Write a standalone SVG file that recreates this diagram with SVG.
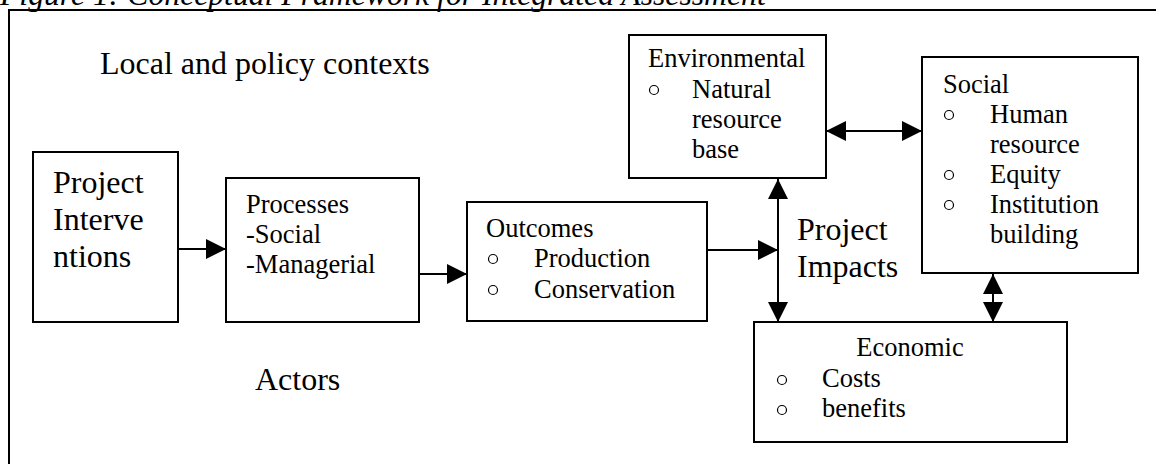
<svg xmlns="http://www.w3.org/2000/svg" width="1156" height="464" viewBox="0 0 1156 464">
<defs>
<style>
text{font-family:"Liberation Serif","Times New Roman",serif;fill:#000}
.big{font-size:32px}
.t{font-size:26.5px}
.box{fill:#fff;stroke:#000;stroke-width:2}
.con{stroke:#000;stroke-width:2;fill:none}
.bul{fill:none;stroke:#000;stroke-width:1.2}
</style>
<marker id="ah" markerUnits="userSpaceOnUse" markerWidth="20" markerHeight="20" refX="20" refY="10" orient="auto-start-reverse" viewBox="0 0 20 20">
<path d="M0,0 L20,10 L0,20 z" fill="#000"/>
</marker>
</defs>
<rect width="1156" height="464" fill="#fff"/>
<text x="0" y="5" font-size="31.7" font-style="italic">Figure 1: Conceptual Framework for Integrated Assessment</text>
<path d="M9,464 V10 H1156" fill="none" stroke="#000" stroke-width="2"/>
<text class="big" x="100" y="74">Local and policy contexts</text>
<text class="big" x="255" y="390">Actors</text>
<text class="big" x="797" y="240">Project</text>
<text class="big" x="797" y="277">Impacts</text>

<g id="interventions">
<rect class="box" x="33" y="152" width="145" height="170"/>
<text class="big" x="53" y="193">Project</text>
<text class="big" x="53" y="230">Interve</text>
<text class="big" x="53" y="267">ntions</text>
</g>
<g id="processes">
<rect class="box" x="226" y="178" width="193" height="144"/>
<text class="t" x="246" y="213">Processes</text>
<text class="t" x="246" y="243">-Social</text>
<text class="t" x="246" y="273">-Managerial</text>
</g>
<g id="outcomes">
<rect class="box" x="467" y="202" width="240" height="119"/>
<text class="t" x="486" y="237">Outcomes</text>
<circle class="bul" cx="493" cy="259" r="4.5"/>
<text class="t" x="534" y="267">Production</text>
<circle class="bul" cx="493" cy="290" r="4.5"/>
<text class="t" x="534" y="298">Conservation</text>
</g>
<g id="environmental">
<rect class="box" x="629" y="35" width="197" height="143"/>
<text class="t" x="648" y="67">Environmental</text>
<circle class="bul" cx="654" cy="90" r="4.5"/>
<text class="t" x="692" y="98">Natural</text>
<text class="t" x="692" y="128">resource</text>
<text class="t" x="692" y="158">base</text>
</g>
<g id="social">
<rect class="box" x="922" y="57" width="216" height="216"/>
<text class="t" x="943" y="93">Social</text>
<circle class="bul" cx="949" cy="115" r="4.5"/>
<text class="t" x="990" y="123">Human</text>
<text class="t" x="990" y="153">resource</text>
<circle class="bul" cx="949" cy="175" r="4.5"/>
<text class="t" x="990" y="183">Equity</text>
<circle class="bul" cx="949" cy="205" r="4.5"/>
<text class="t" x="990" y="213">Institution</text>
<text class="t" x="990" y="243">building</text>
</g>
<g id="economic">
<rect class="box" x="754" y="322" width="313" height="120"/>
<text class="t" x="910" y="356" text-anchor="middle">Economic</text>
<circle class="bul" cx="782" cy="380" r="4.5"/>
<text class="t" x="822" y="387">Costs</text>
<circle class="bul" cx="782" cy="410" r="4.5"/>
<text class="t" x="822" y="417">benefits</text>
</g>
<g id="connectors">
<line class="con" x1="178" y1="249" x2="226" y2="249" marker-end="url(#ah)"/>
<line class="con" x1="419" y1="274" x2="467" y2="274" marker-end="url(#ah)"/>
<line class="con" x1="707" y1="250" x2="778" y2="250" marker-end="url(#ah)"/>
<line class="con" x1="778" y1="179" x2="778" y2="322" marker-start="url(#ah)" marker-end="url(#ah)"/>
<line class="con" x1="826" y1="131" x2="922" y2="131" marker-start="url(#ah)" marker-end="url(#ah)"/>
<line class="con" x1="993" y1="274" x2="993" y2="322" marker-start="url(#ah)" marker-end="url(#ah)"/>
</g>
</svg>
